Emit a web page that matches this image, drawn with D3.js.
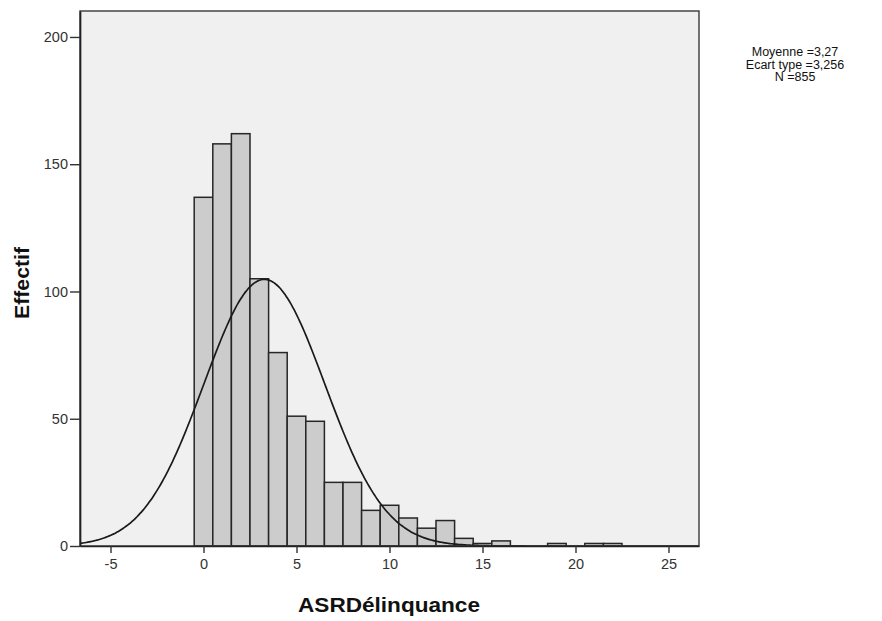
<!DOCTYPE html>
<html>
<head>
<meta charset="utf-8">
<script src="https://cdn.jsdelivr.net/npm/d3@7"></script>
<style>
  html, body { margin: 0; padding: 0; background: #fff; }
  svg { display: block; font-family: Arial, "Liberation Sans", sans-serif; }
</style>
</head>
<body>
<svg id="chart" width="882" height="621"></svg>
<script>
// Histogram bins (unit width, centred on integers) and their counts
const binCenters = [0, 1, 2, 3, 4, 5, 6, 7, 8, 9, 10, 11, 12, 13, 14, 15, 16, 19, 21, 22];
const binCounts  = [137, 158, 162, 105, 76, 51, 49, 25, 25, 14, 16, 11, 7, 10, 3, 1, 2, 1, 1, 1];
const binWidth = 1;

// Summary statistics shown in the legend and used for the normal curve
const mean = 3.27;
const stdDev = 3.256;
const n = 855;
const statLines = ["Moyenne =3,27", "Ecart type =3,256", "N =855"];

const xTicks = [-5, 0, 5, 10, 15, 20, 25];
const yTicks = [0, 50, 100, 150, 200];
const xTitle = "ASRDélinquance";
const yTitle = "Effectif";

const svg = d3.select("#chart");
const plot = { left: 80, top: 11, right: 699, bottom: 546 };

const x = d3.scaleLinear().domain([-6.64, 26.64]).range([plot.left, plot.right]);
const y = d3.scaleLinear().domain([0, 210.2]).range([plot.bottom, plot.top]);

// Plot background
svg.append("rect")
  .attr("x", plot.left).attr("y", plot.top)
  .attr("width", plot.right - plot.left).attr("height", plot.bottom - plot.top)
  .attr("fill", "#f0f0f0");

// Bars
const bins = binCenters.map((c, i) => ({ c, v: binCounts[i] }));
svg.append("g").selectAll("rect").data(bins).join("rect")
  .attr("x", d => x(d.c - binWidth / 2))
  .attr("y", d => y(d.v))
  .attr("width", d => x(d.c + binWidth / 2) - x(d.c - binWidth / 2))
  .attr("height", d => y(0) - y(d.v))
  .attr("fill", "#cccccc")
  .attr("stroke", "#262626")
  .attr("stroke-width", 1.5);

// Normal curve scaled to counts
const pdf = t => n * binWidth * Math.exp(-0.5 * ((t - mean) / stdDev) ** 2) / (stdDev * Math.sqrt(2 * Math.PI));
const curvePts = d3.range(0, 401).map(i => {
  const t = x.domain()[0] + (x.domain()[1] - x.domain()[0]) * i / 400;
  return [t, pdf(t)];
});
svg.append("path")
  .datum(curvePts)
  .attr("d", d3.line().x(d => x(d[0])).y(d => y(d[1])).curve(d3.curveBasis))
  .attr("fill", "none")
  .attr("stroke", "#1a1a1a")
  .attr("stroke-width", 1.7);

// Frame
svg.append("rect")
  .attr("x", plot.left).attr("y", plot.top)
  .attr("width", plot.right - plot.left).attr("height", plot.bottom - plot.top)
  .attr("fill", "none").attr("stroke", "#3a3a3a").attr("stroke-width", 1.4);

// Axes
const xAxis = svg.append("g")
  .attr("transform", `translate(0,${plot.bottom})`)
  .call(d3.axisBottom(x).tickValues(xTicks).tickFormat(d => String(d))
    .tickSize(7).tickSizeOuter(0).tickPadding(6));
const yAxis = svg.append("g")
  .attr("transform", `translate(${plot.left},0)`)
  .call(d3.axisLeft(y).tickValues(yTicks).tickFormat(d => String(d))
    .tickSize(10).tickSizeOuter(0).tickPadding(2));
[xAxis, yAxis].forEach(g => {
  g.select(".domain").attr("stroke", "#222").attr("stroke-width", 1.7);
  g.selectAll(".tick line").attr("stroke", "#333").attr("stroke-width", 1.4);
  g.selectAll(".tick text").attr("fill", "#333").attr("font-size", 14.5)
    .attr("font-family", "Arial, 'Liberation Sans', sans-serif");
});

// Axis titles
svg.append("text")
  .attr("x", 389).attr("y", 612)
  .attr("text-anchor", "middle")
  .attr("font-size", 20).attr("font-weight", "bold").attr("fill", "#111")
  .attr("textLength", 182).attr("lengthAdjust", "spacingAndGlyphs")
  .text(xTitle);
svg.append("text")
  .attr("transform", "translate(29,283) rotate(-90)")
  .attr("text-anchor", "middle")
  .attr("font-size", 20).attr("font-weight", "bold").attr("fill", "#111")
  .attr("textLength", 72).attr("lengthAdjust", "spacingAndGlyphs")
  .text(yTitle);

// Statistics legend
svg.append("g").selectAll("text").data(statLines).join("text")
  .attr("x", 795)
  .attr("y", (d, i) => 56 + i * 12.5)
  .attr("text-anchor", "middle")
  .attr("font-size", 12.5).attr("fill", "#111")
  .text(d => d);
</script>
</body>
</html>
